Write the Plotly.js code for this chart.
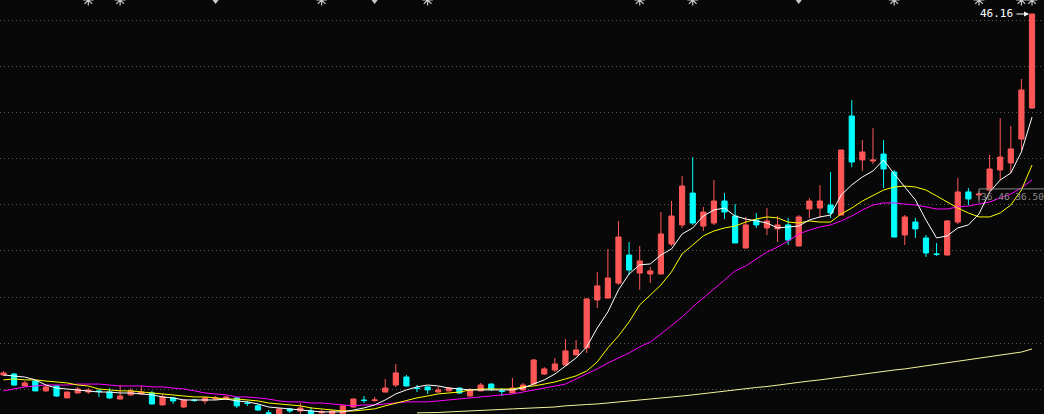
<!DOCTYPE html>
<html>
<head>
<meta charset="utf-8">
<script src="https://cdn.plot.ly/plotly-3.0.1.min.js"></script>
<style>
html,body{margin:0;padding:0;background:#080808;overflow:hidden;}
#chart{width:1044px;height:414px;}
</style>
</head>
<body>
<div id="chart"></div>
<script>
const openP = [27.11,27.16,26.53,26.79,26.27,26.53,25.90,26.16,26.21,26.27,
  26.21,25.84,26.06,26.11,26.16,25.53,25.90,25.42,25.79,25.74,
  25.84,25.84,25.90,25.63,25.48,25.11,25.05,25.32,25.21,25.21,
  25.11,25.05,25.05,25.42,25.79,25.76,26.21,26.58,27.00,26.42,
  26.48,26.21,26.27,26.42,26.00,26.27,26.63,26.27,26.16,26.32,
  26.63,27.16,27.37,27.64,28.17,28.54,31.07,31.17,31.96,33.44,
  32.49,32.44,32.44,34.02,35.03,36.71,34.97,35.13,36.29,35.50,
  33.81,35.29,34.87,34.82,35.03,33.92,35.87,35.92,36.08,35.55,
  40.78,38.46,38.40,38.77,37.82,34.50,35.18,34.34,33.50,33.44,
  35.18,36.77,36.61,36.87,37.93,38.30,39.56,41.20];
const highP = [27.32,27.22,26.79,26.85,26.53,26.55,26.23,26.48,26.42,26.37,
  26.42,26.58,26.42,26.53,26.27,26.11,25.92,25.81,25.84,25.95,
  26.00,26.00,25.95,25.74,25.58,25.26,25.34,25.37,25.63,25.42,
  25.26,25.23,25.50,25.86,26.00,25.95,26.90,27.69,27.11,26.58,
  26.53,26.48,26.48,26.45,26.42,26.69,26.66,26.42,26.95,26.69,
  27.95,27.53,28.01,29.01,28.96,31.17,32.55,33.76,35.24,34.13,
  33.92,32.81,35.71,36.29,37.61,38.61,35.98,37.40,36.71,36.13,
  35.45,35.66,35.92,35.50,35.40,35.55,36.45,37.13,37.82,39.00,
  41.62,39.51,40.14,39.51,37.93,35.55,35.40,34.50,34.08,35.29,
  37.51,36.98,36.82,38.72,40.67,40.25,42.73,46.16];
const lowP = [27.06,26.53,26.53,26.25,26.21,25.95,25.88,26.14,26.11,25.95,
  25.84,25.82,26.00,26.09,25.56,25.51,25.58,25.37,25.69,25.58,
  25.79,25.79,25.37,25.48,25.21,25.03,25.03,25.11,25.05,25.03,
  25.03,25.03,25.03,25.37,25.63,25.69,26.19,26.48,26.50,26.21,
  26.11,26.19,26.25,26.11,25.98,26.25,26.27,26.00,26.14,26.27,
  26.58,27.11,27.27,27.61,28.14,28.27,30.65,31.15,31.86,32.39,
  31.60,31.96,32.42,33.92,34.87,35.03,34.71,35.03,35.34,34.06,
  33.79,34.87,34.50,34.13,33.97,33.90,35.40,35.40,35.40,35.53,
  38.08,37.88,38.24,36.98,34.37,33.97,34.34,33.34,33.39,33.42,
  35.08,36.08,36.35,36.85,37.40,37.77,38.98,41.15];
const closeP = [27.22,26.58,26.69,26.27,26.48,26.00,26.21,26.37,26.32,26.24,
  25.90,26.00,26.27,26.21,25.58,25.95,25.74,25.79,25.76,25.90,
  25.90,25.95,25.48,25.61,25.26,25.08,25.32,25.21,25.37,25.05,
  25.16,25.21,25.48,25.84,25.76,25.79,26.42,27.22,26.53,26.40,
  26.32,26.32,26.42,26.16,26.32,26.58,26.37,26.24,26.42,26.58,
  27.90,27.43,27.69,28.38,28.43,31.12,31.81,32.23,34.39,32.65,
  33.13,32.60,34.55,35.50,37.08,35.13,35.71,36.29,35.71,34.08,
  35.03,35.03,35.24,35.03,34.23,35.45,36.29,36.29,35.66,38.98,
  38.35,38.88,38.46,37.98,34.39,35.45,34.82,33.55,33.47,35.24,
  36.77,36.40,36.66,37.98,38.61,39.04,42.15,46.16];

const ma5 = [27.11,27.06,27.00,26.85,26.58,26.42,26.37,26.32,26.27,26.21,
  26.21,26.16,26.16,26.11,26.06,25.95,25.90,25.79,25.79,25.79,
  25.79,25.84,25.74,25.69,25.58,25.42,25.37,25.32,25.26,25.21,
  25.16,25.16,25.16,25.26,25.37,25.53,25.79,26.11,26.32,26.48,
  26.58,26.53,26.42,26.37,26.32,26.32,26.32,26.32,26.32,26.42,
  26.63,26.85,27.16,27.58,28.01,28.59,29.59,30.44,31.60,32.44,
  32.92,32.97,33.44,33.76,34.55,34.87,35.50,35.82,35.92,35.50,
  35.34,35.24,35.13,34.87,34.92,34.97,35.29,35.45,35.55,36.61,
  37.14,37.56,37.88,38.46,37.72,37.03,36.35,35.29,34.34,34.45,
  34.87,35.03,35.61,36.77,37.40,37.77,38.88,40.72];
const ma10 = [26.85,26.90,26.85,26.85,26.79,26.74,26.69,26.58,26.53,26.37,
  26.32,26.27,26.27,26.21,26.16,26.11,26.06,26.00,25.95,25.95,
  25.90,25.84,25.84,25.79,25.74,25.63,25.58,25.53,25.48,25.37,
  25.32,25.26,25.21,25.21,25.26,25.32,25.48,25.63,25.74,25.90,
  26.00,26.11,26.16,26.21,26.32,26.37,26.37,26.37,26.37,26.48,
  26.53,26.63,26.74,26.90,27.06,27.32,27.80,28.54,29.17,29.91,
  30.81,31.33,31.86,32.55,33.50,33.97,34.45,34.71,34.87,34.97,
  35.18,35.34,35.45,35.40,35.18,35.13,35.24,35.18,35.18,35.61,
  35.92,36.29,36.56,36.87,37.03,37.08,37.03,36.87,36.56,36.24,
  35.92,35.66,35.45,35.45,35.66,36.08,36.87,38.19];
const ma20 = [26.27,26.37,26.48,26.53,26.58,26.58,26.58,26.63,26.63,26.63,
  26.58,26.53,26.53,26.53,26.48,26.48,26.42,26.37,26.27,26.16,
  26.11,26.06,25.95,25.95,25.90,25.84,25.74,25.69,25.69,25.63,
  25.63,25.58,25.53,25.48,25.53,25.53,25.58,25.63,25.69,25.69,
  25.69,25.74,25.79,25.84,25.90,25.95,26.00,26.06,26.11,26.21,
  26.32,26.42,26.53,26.63,26.90,27.16,27.43,27.74,28.01,28.27,
  28.59,28.85,29.27,29.70,30.17,30.70,31.17,31.60,32.12,32.60,
  32.86,33.23,33.60,33.86,34.18,34.55,34.76,34.92,35.03,35.24,
  35.50,35.82,36.08,36.19,36.19,36.13,36.08,35.98,35.87,35.87,
  35.98,36.03,36.13,36.24,36.45,36.66,36.98,37.40];
const ma250 = [null,null,null,null,null,null,null,null,null,null,
  null,null,null,null,null,null,null,null,null,null,
  null,null,null,null,null,null,null,null,null,null,
  null,null,null,null,null,null,null,null,null,25.11,
  25.11,25.13,25.16,25.18,25.21,25.24,25.26,25.29,25.32,25.34,
  25.37,25.40,25.42,25.48,25.53,25.55,25.58,25.63,25.69,25.74,
  25.76,25.82,25.87,25.92,26.00,26.06,26.13,26.19,26.27,26.32,
  26.37,26.45,26.50,26.58,26.63,26.71,26.79,26.85,26.93,27.00,
  27.06,27.14,27.22,27.30,27.37,27.43,27.51,27.58,27.66,27.74,
  27.82,27.90,27.98,28.06,28.14,28.22,28.32,28.48];

// information-mine markers along the top edge (candle indices)
const starMarks = [8, 11, 30, 40, 60, 65, 84, 92, 96, 97];
const triMarks = [20, 35, 75];

const lastPriceLabel = '46.16';
const boxLabel = '36.46 36.50';

const days = openP.map((_, i) => i);
const yMin = 25.05, yMax = 46.9;

const traces = [
  {
    type: 'candlestick', x: days, open: openP, high: highP, low: lowP, close: closeP,
    increasing: {line: {color: '#ff5757', width: 1}, fillcolor: '#ff5757'},
    decreasing: {line: {color: '#00ffff', width: 1}, fillcolor: '#00ffff'},
    whiskerwidth: 0, hoverinfo: 'skip'
  },
  {type: 'scatter', mode: 'lines', x: days, y: ma250, line: {color: '#f4f49c', width: 1}, hoverinfo: 'skip'},
  {type: 'scatter', mode: 'lines', x: days, y: ma20, line: {color: '#ff00ff', width: 1}, hoverinfo: 'skip'},
  {type: 'scatter', mode: 'lines', x: days, y: ma10, line: {color: '#ffff00', width: 1}, hoverinfo: 'skip'},
  {type: 'scatter', mode: 'lines', x: days, y: ma5, line: {color: '#ffffff', width: 1}, hoverinfo: 'skip'},
  {type: 'scatter', mode: 'markers', x: starMarks, y: starMarks.map(() => yMax), cliponaxis: false,
   marker: {symbol: 'asterisk-open', size: 9, color: '#c8c8c8', line: {color: '#c8c8c8', width: 1.2}}, hoverinfo: 'skip'},
  {type: 'scatter', mode: 'markers', x: triMarks, y: triMarks.map(() => yMax), cliponaxis: false,
   marker: {symbol: 'triangle-down', size: 8, color: '#c8c8c8'}, hoverinfo: 'skip'}
];

const layout = {
  width: 1044, height: 414,
  margin: {l: 0, r: 0, t: 0, b: 0, pad: 0},
  paper_bgcolor: '#080808', plot_bgcolor: '#080808',
  showlegend: false,
  boxgap: 0.3,
  xaxis: {range: [-0.33, 98.13], showgrid: false, zeroline: false, showticklabels: false,
          ticks: '', showline: false, rangeslider: {visible: false}, fixedrange: true},
  yaxis: {range: [yMin, yMax], tick0: 45.844, dtick: 2.438, showgrid: true,
          gridcolor: '#5a5a5a', griddash: '1px,3px', gridwidth: 1,
          zeroline: false, showticklabels: false, ticks: '', showline: false, fixedrange: true},
  shapes: [
    {type: 'line', xref: 'x', yref: 'y', x0: 92.0, x1: 99, y0: 36.93, y1: 36.93,
     line: {color: '#8a8a8a', width: 1}},
    {type: 'line', xref: 'x', yref: 'y', x0: 92.0, x1: 92.0, y0: 36.93, y1: 36.20,
     line: {color: '#8a8a8a', width: 1}}
  ],
  annotations: [
    {x: 97, y: 46.16, xref: 'x', yref: 'y', text: lastPriceLabel, showarrow: false,
     xanchor: 'right', yanchor: 'middle', xshift: -17, yshift: 1,
     font: {family: 'DejaVu Sans Mono, monospace', size: 11, color: '#ffffff'}},
    {x: 97, y: 46.16, xref: 'x', yref: 'y', text: '', showarrow: true,
     ax: -14, ay: 0, xshift: -3, arrowhead: 2, arrowsize: 1, arrowwidth: 1, arrowcolor: '#ffffff', standoff: 0},
    {x: 92.1, y: 36.55, xref: 'x', yref: 'y', text: boxLabel, showarrow: false,
     xanchor: 'left', yanchor: 'middle', borderpad: 0,
     font: {family: 'DejaVu Sans Mono, monospace', size: 9.5, color: '#8a8a8a'}}
  ]
};

Plotly.newPlot('chart', traces, layout, {staticPlot: true, displayModeBar: false});
</script>
</body>
</html>
